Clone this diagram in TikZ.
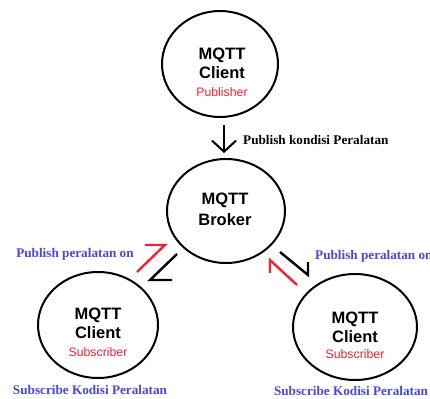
\documentclass[tikz,border=0pt]{standalone}
\usepackage{fontspec}
\setmainfont{Liberation Serif}
\setsansfont{Liberation Sans}
\usetikzlibrary{shapes.geometric,arrows.meta}
\definecolor{lblue}{RGB}{72,72,220}
\definecolor{lred}{RGB}{240,36,52}
\tikzset{
  x=1pt, y=-1pt,
  bubble/.style={ellipse, draw=black, line width=2pt, inner sep=0pt},
  ttl/.style={font=\sffamily\bfseries\fontsize{16.5}{16}\selectfont, inner sep=0pt},
  role/.style={font=\sffamily\fontsize{12.3}{12}\selectfont, text=lred, inner sep=0pt},
  lbl/.style={font=\rmfamily\bfseries\fontsize{13.2}{13}\selectfont, inner sep=0pt},
  harp/.style={line width=2.4pt},
}
\begin{document}
\begin{tikzpicture}
\useasboundingbox[fill=white] (0,0) rectangle (430,398);
% circles
\node[bubble, minimum width=116pt, minimum height=106pt] (pub) at (220,64) {};
\node[bubble, minimum width=118pt, minimum height=104pt] (brk) at (226,211) {};
\node[bubble, minimum width=120pt, minimum height=106pt] (subl) at (98,325) {};
\node[bubble, minimum width=124pt, minimum height=106pt] (subr) at (355,327) {};
% texts
\node[ttl] (t1) at (222,55) {MQTT};
\node[ttl] (t2) at (222,73) {Client};
\node[role] (t3) at (222,92) {Publisher};
\node[ttl] (b1) at (225,200) {MQTT};
\node[ttl] (b2) at (225,220) {Broker};
\node[ttl] (l1) at (98,315) {MQTT};
\node[ttl] (l2) at (98,333) {Client};
\node[role] (l3) at (98,352) {Subscriber};
\node[ttl] (r1) at (355,319) {MQTT};
\node[ttl] (r2) at (355,337) {Client};
\node[role] (r3) at (355,354) {Subscriber};
% labels
\node[lbl, anchor=west] (pk) at (243,140) {Publish kondisi Peralatan};
\node[lbl, text=lblue] (pl) at (75,254) {Publish peralatan on};
\node[lbl, text=lblue, anchor=west] (pr) at (315,256) {Publish peralatan on};
\node[lbl, text=lblue] (sl) at (90,390) {Subscribe Kodisi Peralatan};
\node[lbl, text=lblue] (sr) at (351,391) {Subscribe Kodisi Peralatan};
% vertical arrow
\coordinate (a0) at (224,125);
\coordinate (a1) at (224,153);
\draw[line width=2pt, -{Straight Barb[length=11pt,width=24pt]}] (a0) -- (a1);
% left harpoons
\coordinate (lr0) at (137,272); \coordinate (lr1) at (165,245); \coordinate (lr2) at (145,245);
\draw[harp, lred] (lr0) -- (lr1) -- (lr2);
\coordinate (lb0) at (177,254); \coordinate (lb1) at (150,280); \coordinate (lb2) at (172,280);
\draw[harp] (lb0) -- (lb1) -- (lb2);
% right harpoons
\coordinate (rr0) at (297,285); \coordinate (rr1) at (270,260); \coordinate (rr2) at (270,273);
\draw[harp, lred] (rr0) -- (rr1) -- (rr2);
\coordinate (rb0) at (280,252); \coordinate (rb1) at (308,275); \coordinate (rb2) at (308,262);
\draw[harp] (rb0) -- (rb1) -- (rb2);
\end{tikzpicture}
\end{document}
